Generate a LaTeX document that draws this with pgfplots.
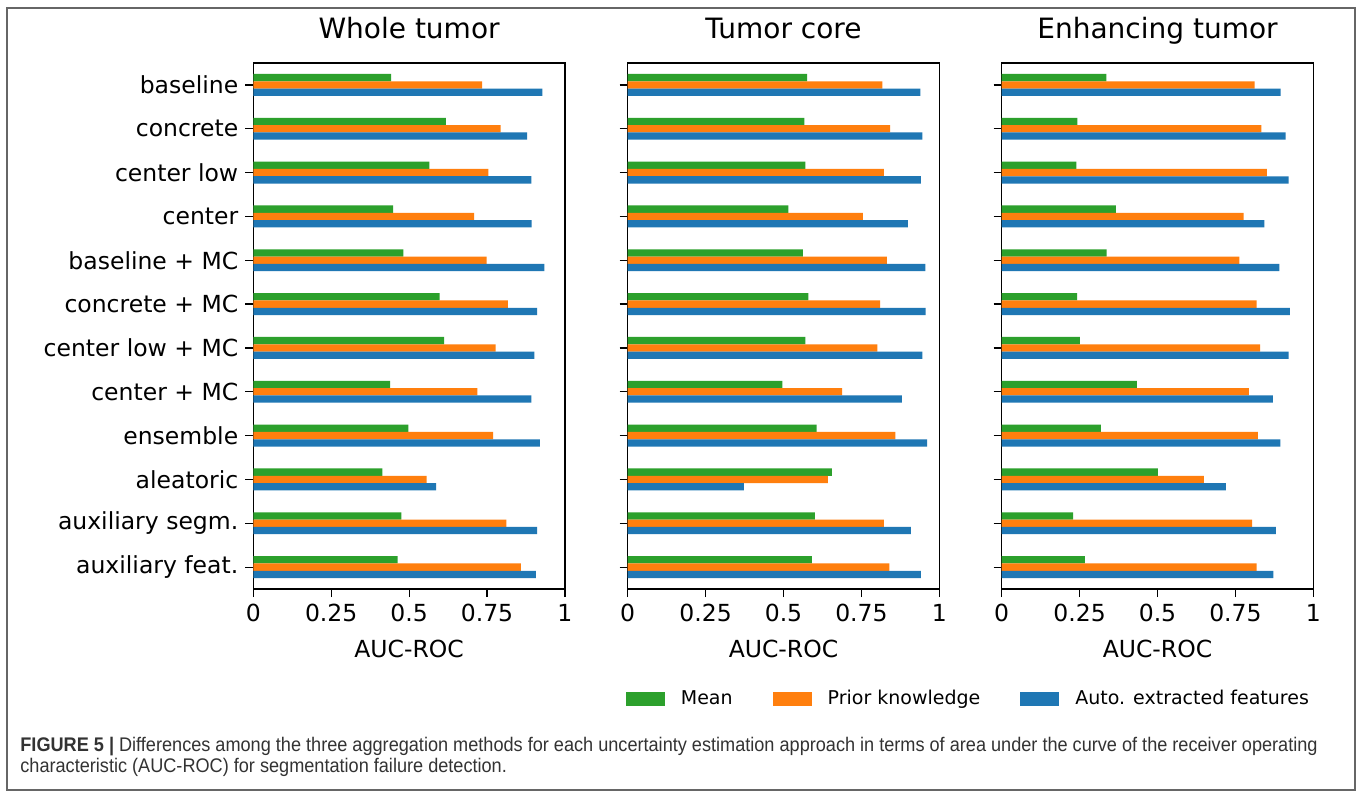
\documentclass[border=0pt]{standalone}
\usepackage{pgfplots}
\pgfplotsset{compat=1.18}
\usepackage{pgfplotstable}
\usepackage{fontspec}
\setmainfont{DejaVu Sans}
\newfontfamily\capfont[FakeStretch=0.92]{Liberation Sans}
\definecolor{mplblue}{HTML}{1F77B4}
\definecolor{mplorange}{HTML}{FF7F0E}
\definecolor{mplgreen}{HTML}{2CA02C}

% idx  mean  prior  auto
\pgfplotstableread{
idx mean prior auto
0 0.442 0.734 0.928
1 0.618 0.794 0.879
2 0.565 0.754 0.892
3 0.449 0.709 0.893
4 0.482 0.749 0.934
5 0.598 0.817 0.911
6 0.612 0.778 0.902
7 0.439 0.719 0.892
8 0.498 0.770 0.920
9 0.414 0.556 0.587
10 0.475 0.812 0.911
11 0.463 0.859 0.907
}\whole
\pgfplotstableread{
idx mean prior auto
0 0.576 0.817 0.939
1 0.567 0.842 0.946
2 0.570 0.822 0.941
3 0.516 0.755 0.899
4 0.562 0.832 0.955
5 0.580 0.810 0.956
6 0.570 0.801 0.946
7 0.496 0.688 0.880
8 0.606 0.859 0.961
9 0.655 0.642 0.373
10 0.601 0.822 0.909
11 0.591 0.840 0.941
}\core
\pgfplotstableread{
idx mean prior auto
0 0.336 0.812 0.895
1 0.243 0.833 0.911
2 0.240 0.851 0.921
3 0.366 0.776 0.843
4 0.337 0.763 0.891
5 0.242 0.818 0.925
6 0.251 0.829 0.921
7 0.434 0.793 0.870
8 0.318 0.822 0.894
9 0.501 0.649 0.719
10 0.229 0.804 0.880
11 0.267 0.818 0.872
}\enh

\pgfplotsset{
  panel/.style={
    xbar, scale only axis, width=155.8pt, height=263pt, anchor=north west,
    xmin=0, xmax=1, ymin=-0.5, ymax=11.5, y dir=reverse,
    ytick={0,...,11}, xtick={0,0.25,0.5,0.75,1},
    xticklabels={0,0.25,0.5,0.75,1},
    tick pos=left, tick align=outside, major tick length=4pt,
    tick style={black, line width=0.6pt},
    axis line style={line width=0.6pt},
    bar width=0.1667,
    ticklabel style={font=\fontsize{11.75}{14}\selectfont},
    xlabel={AUC-ROC},
    xlabel style={font=\fontsize{11.75}{14}\selectfont, at={(axis description cs:0.5,0)}, anchor=base, yshift=-34pt},
    title style={font=\fontsize{14}{17}\selectfont, at={(axis description cs:0.5,1)}, anchor=base, yshift=6.5pt},
  },
  pm/.style={fill=mplgreen, draw=none, bar shift=-0.1667},
  pp/.style={fill=mplorange, draw=none, bar shift=0},
  pa/.style={fill=mplblue, draw=none, bar shift=0.1667},
}

\begin{document}
\begin{tikzpicture}
\useasboundingbox (0,0) rectangle (679pt,-399pt);
\fill[white] (0,0) rectangle (679pt,-399pt);
\draw[gray!80!black, line width=1pt] (3.5pt,-4pt) rectangle (677.5pt,-395pt);

\begin{axis}[panel, at={(126.65pt,-31.5pt)}, title={Whole tumor},
  yticklabels={baseline, concrete, center low, center, baseline + MC, concrete + MC, center low + MC, center + MC, ensemble, aleatoric, auxiliary segm., auxiliary feat.}]
\addplot[pm] table[x=mean, y=idx] {\whole};
\addplot[pp] table[x=prior, y=idx] {\whole};
\addplot[pa] table[x=auto, y=idx] {\whole};
\end{axis}

\begin{axis}[panel, at={(313.85pt,-31.5pt)}, title={Tumor core}, yticklabels={}]
\addplot[pm] table[x=mean, y=idx] {\core};
\addplot[pp] table[x=prior, y=idx] {\core};
\addplot[pa] table[x=auto, y=idx] {\core};
\end{axis}

\begin{axis}[panel, at={(500.85pt,-31.5pt)}, title={Enhancing tumor}, yticklabels={},
  legend columns=3,
  legend style={draw=none, fill=none, at={(axis description cs:1,-0.205)}, anchor=east,
    xshift=3pt, yshift=-1pt,
    font=\fontsize{9.5}{11}\selectfont,
    /tikz/every even column/.append style={column sep=18pt}}]
\addplot[pm, legend image code/.code={\fill[mplgreen] (0pt,-3.5pt) rectangle (19.5pt,3.5pt); \path (25.5pt,0pt);}] table[x=mean, y=idx] {\enh};
\addplot[pp, legend image code/.code={\fill[mplorange] (0pt,-3.5pt) rectangle (19.5pt,3.5pt); \path (25.5pt,0pt);}] table[x=prior, y=idx] {\enh};
\addplot[pa, legend image code/.code={\fill[mplblue] (0pt,-3.5pt) rectangle (19.5pt,3.5pt); \path (25.5pt,0pt);}] table[x=auto, y=idx] {\enh};
\legend{Mean, Prior knowledge, Auto. extracted features}
\end{axis}

\node[anchor=base west, inner sep=0pt, text=black!80, font=\capfont\fontsize{9.85}{11}\selectfont] at (10pt,-375.5pt)
  {\textbf{FIGURE 5 |} Differences among the three aggregation methods for each uncertainty estimation approach in terms of area under the curve of the receiver operating};
\node[anchor=base west, inner sep=0pt, text=black!80, font=\capfont\fontsize{9.85}{11}\selectfont] at (10pt,-386pt)
  {characteristic (AUC-ROC) for segmentation failure detection.};
\end{tikzpicture}
\end{document}
